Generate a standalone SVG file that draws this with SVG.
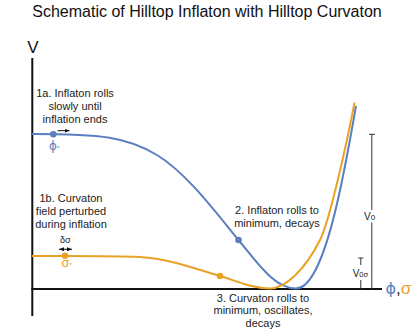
<svg xmlns="http://www.w3.org/2000/svg" width="417" height="334" viewBox="0 0 417 334">
<style>
text{font-family:"Liberation Sans",Arial,sans-serif;fill:#222}
.lbl{font-size:11px;text-anchor:middle}
.phi{font-family:"DejaVu Sans","Liberation Sans",sans-serif}
.ax{stroke:#111;stroke-width:2;fill:none}
.bar{stroke:#333;stroke-width:1;fill:none}
.blue{stroke:#5a7ec0;stroke-width:2;fill:none}
.orange{stroke:#e9a128;stroke-width:2;fill:none}
.bdot{fill:#5a7ec0}
.odot{fill:#e9a128}
.arr{stroke:#111;stroke-width:1;fill:none}
</style>
<defs>
<marker id="ah" markerUnits="userSpaceOnUse" markerWidth="5" markerHeight="4" refX="5" refY="2" orient="auto-start-reverse">
<path d="M0,0 L5,2 L0,4 z" fill="#111"/>
</marker>
</defs>
<text x="207" y="17" style="font-size:16px;text-anchor:middle;fill:#111">Schematic of Hilltop Inflaton with Hilltop Curvaton</text>
<g id="axes">
<line class="ax" x1="32.3" y1="58" x2="32.3" y2="316"/>
<line class="ax" x1="31.3" y1="289" x2="382" y2="289"/>
<text x="33" y="52.5" style="font-size:17px;text-anchor:middle;fill:#111">V</text>
<text x="385.5" y="294" style="font-size:17px"><tspan class="phi" style="fill:#5a7ec0;font-size:16px">ϕ</tspan><tspan style="fill:#222">,</tspan><tspan style="fill:#e9a128">σ</tspan></text>
</g>
<g id="connectors">
<path id="inflaton-curve" class="blue" d="M32,134 C102,134 127,137 157,155 C187,173 218.5,216 238.5,240 C256.5,261.6 274,288.5 296,288.5 C326,288.5 346,162 356,106"/>
<path id="curvaton-curve" class="orange" d="M32,256 C70,256 110,255.6 140,257 C170,258.8 195,268.75 220,276 C235,280.5 252,288.5 270,288.5 C285,288.5 305,270 320,240 C330,220 348.5,134.9 354.5,102.5"/>
<line class="arr" x1="57.5" y1="130.7" x2="69.5" y2="130.7" marker-end="url(#ah)"/>
<line class="arr" x1="59" y1="249.3" x2="72" y2="249.3" marker-start="url(#ah)" marker-end="url(#ah)"/>
<g id="V0-bar">
<line class="bar" x1="369" y1="134.3" x2="375" y2="134.3"/>
<line class="bar" x1="371.8" y1="134.3" x2="371.8" y2="210"/>
<line class="bar" x1="371.8" y1="222.5" x2="371.8" y2="289"/>
</g>
<g id="V0s-bar">
<line class="bar" x1="358.3" y1="258" x2="363.3" y2="258"/>
<line class="bar" x1="360.8" y1="258" x2="360.8" y2="265"/>
<line class="bar" x1="360.8" y1="280" x2="360.8" y2="289"/>
</g>
</g>
<g id="node-1a">
<circle class="bdot" cx="53.3" cy="134.3" r="3.3"/>
<text x="49" y="150" style="font-size:12px;fill:#5a7ec0"><tspan class="phi">ϕ</tspan><tspan style="font-size:6px;fill:#5a7ec0">*</tspan></text>
<text class="lbl" x="75" y="97">1a. Inflaton rolls</text>
<text class="lbl" x="75" y="110">slowly until</text>
<text class="lbl" x="75" y="123">inflation ends</text>
</g>
<g id="node-1b">
<circle class="odot" cx="65" cy="255.8" r="3.3"/>
<text x="61.5" y="267" style="font-size:13px;fill:#e9a128">σ<tspan style="font-size:6px;fill:#e9a128">*</tspan></text>
<text x="65.3" y="243.3" style="font-size:9px;text-anchor:middle">δσ</text>
<text class="lbl" x="71" y="202">1b. Curvaton</text>
<text class="lbl" x="71" y="215">field perturbed</text>
<text class="lbl" x="71" y="228">during inflation</text>
</g>
<g id="node-2">
<circle class="bdot" cx="238.5" cy="240" r="3.3"/>
<text class="lbl" x="277" y="214">2. Inflaton rolls to</text>
<text class="lbl" x="277" y="227">minimum, decays</text>
</g>
<g id="node-3">
<circle class="odot" cx="220" cy="276" r="3.3"/>
<text class="lbl" x="263" y="301.5">3. Curvaton rolls to</text>
<text class="lbl" x="263" y="314">minimum, oscillates,</text>
<text class="lbl" x="263" y="326.5">decays</text>
</g>
<g id="label-V0">
<text x="364" y="220" style="font-size:10px">V<tspan style="font-size:8px">0</tspan></text>
</g>
<g id="label-V0s">
<text x="352.7" y="277.3" style="font-size:10px">V<tspan style="font-size:7.5px">0σ</tspan></text>
</g>
</svg>
